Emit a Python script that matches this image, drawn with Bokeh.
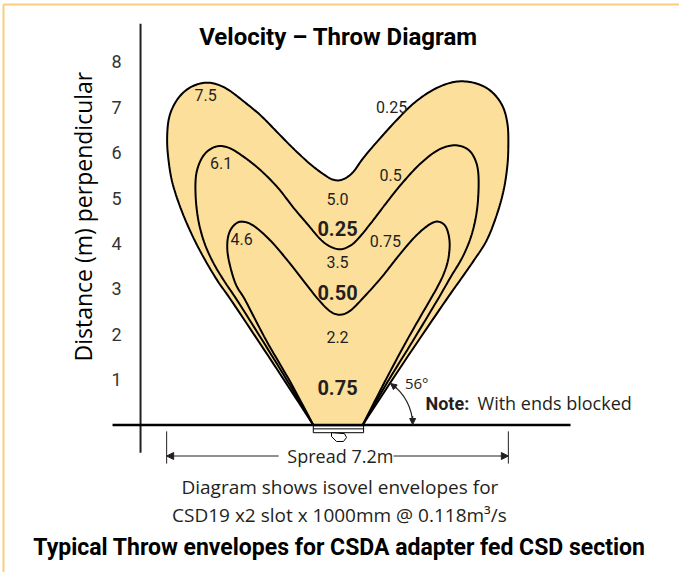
import numpy as np
from bokeh.plotting import figure
from bokeh.models import Range1d, FixedTicker, Arrow, NormalHead
from bokeh.core.properties import value
from bokeh.embed import file_html
from bokeh.resources import INLINE

# ---------------- data (metres) ----------------
y_ticks = [1, 2, 3, 4, 5, 6, 7, 8]
velocity_ms = ["0.25", "0.5", "0.75"]          # isovel velocities (m/s)
centre_velocity_ms = ["0.25", "0.50", "0.75"]
throw_m = [7.5, 6.1, 4.6]                      # lobe throw of each isovel
centre_throw_m = [5.0, 3.5, 2.2]               # centre throw of each isovel
spread_m = 7.2
slot_angle_deg = 56

# isovel 0.25 m/s envelope (x = spread position, y = distance perpendicular)
env_025_x = [-0.51, -1.37, -2.21, -2.53, -2.82, -3.08, -3.31, -3.48, -3.56, -3.59, -3.56,
             -3.46, -3.29, -3.06, -2.78, -2.53, -2.28, -1.98, -1.62, -1.28, -0.93, -0.59,
             -0.29, -0.08, 0.11, 0.32, 0.55, 0.91, 1.26, 1.60, 1.96, 2.32, 2.65, 2.99, 3.27,
             3.48, 3.58, 3.60, 3.58, 3.50, 3.35, 3.14, 2.87, 2.59, 2.28, 1.41, 0.53]
env_025_y = [0.00, 1.38, 2.70, 3.18, 3.69, 4.22, 4.79, 5.34, 5.83, 6.27, 6.71,
             7.02, 7.28, 7.46, 7.54, 7.50, 7.37, 7.13, 6.82, 6.46, 6.09, 5.76,
             5.52, 5.40, 5.41, 5.56, 5.89, 6.33, 6.73, 7.08, 7.35, 7.52, 7.57, 7.50, 7.32,
             7.02, 6.64, 6.22, 5.72, 5.17, 4.61, 4.06, 3.62, 3.20, 2.74, 1.40, 0.00]

# isovel 0.5 m/s envelope
env_050_x = [-0.51, -1.05, -1.58, -2.11, -2.38, -2.61, -2.80, -2.93, -2.99, -2.97, -2.82,
             -2.57, -2.30, -1.98, -1.62, -1.26, -0.93, -0.63, -0.36, -0.15, 0.06, 0.27,
             0.44, 0.70, 1.05, 1.39, 1.75, 2.11, 2.44, 2.72, 2.89, 2.97, 2.95, 2.84, 2.65,
             2.38, 2.11, 1.58, 1.05, 0.53]
env_050_y = [0.00, 0.96, 1.86, 2.74, 3.16, 3.56, 4.00, 4.50, 5.06, 5.56, 5.94,
             6.13, 6.11, 5.91, 5.61, 5.23, 4.79, 4.42, 4.09, 3.93, 3.87, 3.95,
             4.11, 4.44, 4.92, 5.36, 5.76, 6.05, 6.16, 6.09, 5.87, 5.50, 4.83, 4.24, 3.73,
             3.25, 2.76, 1.84, 0.94, 0.00]

# isovel 0.75 m/s envelope
env_075_x = [-0.51, -0.99, -1.50, -1.94, -2.13, -2.25, -2.32, -2.30, -2.19, -2.02, -1.77,
             -1.41, -1.05, -0.72, -0.40, -0.15, 0.06, 0.27, 0.55, 0.91, 1.26, 1.60, 1.90,
             2.11, 2.28, 2.36, 2.34, 2.25, 2.11, 1.92, 1.45, 0.99, 0.53]
env_075_y = [0.00, 0.94, 1.86, 2.74, 3.07, 3.45, 3.84, 4.17, 4.39, 4.48, 4.39,
             4.06, 3.62, 3.18, 2.76, 2.50, 2.43, 2.52, 2.81, 3.23, 3.69, 4.11, 4.39,
             4.48, 4.37, 4.06, 3.69, 3.36, 3.05, 2.70, 1.84, 0.94, 0.00]

# ---------------- layout / styling ----------------
FONT = "Roboto"
FONT2 = "Open Sans"
INK = "#231f20"
FILL = "#fddf9c"
SX, SY = 47.46, 45.40            # px per metre
X0_PX, Y0_PX = 337.0, 424.5      # canvas position of the slot centre
W, H = 679, 572
x_left = -X0_PX / SX
x_right = (W - X0_PX) / SX
y_top = Y0_PX / SY
y_bottom = (Y0_PX - H) / SY


def smooth(xs, ys, n=10):
    """Catmull-Rom rendering of the read contour points."""
    P = np.column_stack([xs, ys]).astype(float)
    P = np.vstack([P[0], P, P[-1]])
    out = []
    t = np.linspace(0, 1, n, endpoint=False)[:, None]
    for i in range(1, len(P) - 2):
        p0, p1, p2, p3 = P[i - 1], P[i], P[i + 1], P[i + 2]
        seg = 0.5 * ((2 * p1) + (-p0 + p2) * t + (2 * p0 - 5 * p1 + 4 * p2 - p3) * t ** 2
                     + (-p0 + 3 * p1 - 3 * p2 + p3) * t ** 3)
        out.append(seg)
    out.append(P[-2][None])
    a = np.vstack(out)
    return a[:, 0], a[:, 1]


p = figure(width=W, height=H, x_range=Range1d(x_left, x_right), y_range=Range1d(y_bottom, y_top),
           output_backend="svg", toolbar_location=None, x_axis_location=None,
           min_border=0, outline_line_color=None)
p.grid.visible = False
p.background_fill_color = "white"

axis_x = -4.15
ax = p.yaxis[0]
ax.fixed_location = axis_x
ax.ticker = FixedTicker(ticks=y_ticks)
ax.axis_line_color = None
ax.major_tick_line_color = None
ax.minor_tick_line_color = None
ax.major_label_standoff = 13
ax.major_label_text_font = FONT
ax.major_label_text_font_size = "18px"
ax.major_label_text_color = "#333333"

# orange frame (top + left)
bx = x_left + 3 / SX
by = y_top - 4 / SY
p.segment(x0=[bx, bx], y0=[by, by], x1=[x_right, bx], y1=[by, y_bottom],
          line_color="#fbcb7e", line_width=2)

# envelopes
ox, oy = smooth(env_025_x, env_025_y)
p.patch(ox, oy, fill_color=FILL, line_color="black", line_width=2)
for ex, ey in [(env_050_x, env_050_y), (env_075_x, env_075_y)]:
    sx_, sy_ = smooth(ex, ey)
    p.line(sx_, sy_, line_color="black", line_width=2)

# axis line and ground line
p.segment(x0=[axis_x], y0=[-0.61], x1=[axis_x], y1=[8.84], line_color=INK, line_width=2)
p.segment(x0=[-4.74], y0=[0], x1=[4.91], y1=[0], line_color="black", line_width=2.6)

# slot + adapter
base_l, base_r = env_025_x[0], env_025_x[-1]
p.quad(left=[base_l], right=[base_r + 0.02], top=[-0.02], bottom=[-0.17],
       fill_color="white", line_color="black", line_width=1)
p.segment(x0=[base_l], y0=[-0.085], x1=[base_r + 0.02], y1=[-0.085], line_color="black", line_width=1)
p.patch([-0.126, -0.126, -0.021, 0.126, 0.19, 0.147], [-0.17, -0.253, -0.363, -0.363, -0.275, -0.19],
        fill_color="white", line_color="black", line_width=1)

# contour labels
lab_left_x = [-2.78, -2.45, -2.02]
lab_left_y = [7.26, 5.78, 4.09]
p.text(x=lab_left_x, y=lab_left_y, text=[f"{v:.1f}" for v in throw_m], text_font=value(FONT),
       text_font_size="16px", text_color=INK, text_align="center", text_baseline="middle")
lab_right_x = [1.14, 1.12, 1.01]
lab_right_y = [7.00, 5.51, 4.05]
p.text(x=lab_right_x, y=lab_right_y, text=velocity_ms, text_font=value(FONT),
       text_font_size="16px", text_color=INK, text_align="center", text_baseline="middle")
p.text(x=[0, 0, 0], y=[4.97, 3.58, 1.93], text=[f"{v:.1f}" for v in centre_throw_m],
       text_font=value(FONT), text_font_size="16px", text_color=INK,
       text_align="center", text_baseline="middle")
p.text(x=[0, 0, 0], y=[4.33, 2.92, 0.83], text=centre_velocity_ms, text_font=value(FONT),
       text_font_size="20px", text_font_style="bold", text_color=INK,
       text_align="center", text_baseline="middle")

# angle arc
cx = base_r
R = 50
p.arc(x=[cx], y=[0], radius=R, radius_units="screen", start_angle=0,
      end_angle=np.radians(slot_angle_deg), line_color=INK, line_width=1.2)
a1 = np.radians(slot_angle_deg)
a0 = np.radians(slot_angle_deg - 9)
p.add_layout(Arrow(x_start=cx + R / SX, y_start=9 / SY, x_end=cx + R / SX, y_end=0.5 / SY,
                   end=NormalHead(size=6, fill_color=INK, line_color=INK, line_width=1),
                   line_color=INK, line_width=1.2))
p.add_layout(Arrow(x_start=cx + R * np.cos(a0) / SX, y_start=R * np.sin(a0) / SY,
                   x_end=cx + R * np.cos(a1) / SX, y_end=R * np.sin(a1) / SY,
                   end=NormalHead(size=6, fill_color=INK, line_color=INK, line_width=1),
                   line_color=INK, line_width=1.2))
p.text(x=[1.67], y=[0.92], text=[f"{slot_angle_deg}°"], text_font=value(FONT2), text_font_size="15px",
       text_color=INK, text_align="center", text_baseline="middle")
p.text(x=[1.854], y=[0.474], text=["Note:"], text_font=value(FONT), text_font_size="18px",
       text_font_style="bold", text_color=INK, text_align="left", text_baseline="middle")
p.text(x=[2.95], y=[0.474], text=["With ends blocked"], text_font=value(FONT2), text_font_size="18px",
       text_color=INK, text_align="left", text_baseline="middle")

# spread dimension
half = spread_m / 2
ya = -0.683
p.segment(x0=[-half, half], y0=[-0.14, -0.14], x1=[-half, half], y1=[-0.85, -0.85],
          line_color=INK, line_width=1)
p.add_layout(Arrow(x_start=-1.24, y_start=ya, x_end=-half, y_end=ya,
                   end=NormalHead(size=7, fill_color=INK, line_color=INK, line_width=1),
                   line_color=INK, line_width=1))
p.add_layout(Arrow(x_start=1.18, y_start=ya, x_end=half, y_end=ya,
                   end=NormalHead(size=7, fill_color=INK, line_color=INK, line_width=1),
                   line_color=INK, line_width=1))
p.text(x=[0.06], y=[ya], text=[f"Spread {spread_m}m"], text_font=value(FONT2), text_font_size="18px",
       text_color=INK, text_align="center", text_baseline="middle")

# titles and notes
p.text(x=[0.02], y=[8.557], text=["Velocity – Throw Diagram"], text_font=value(FONT),
       text_font_size="24px", text_font_style="bold", text_color="black",
       text_align="center", text_baseline="middle")
p.text(x=[-5.37], y=[4.59], text=["Distance (m) perpendicular"], angle=np.pi / 2,
       text_font=value(FONT2), text_font_size="23px", text_color="black",
       text_align="center", text_baseline="middle")
p.text(x=[0.05], y=[-1.37], text=["Diagram shows isovel envelopes for"], text_font=value(FONT2),
       text_font_size="19px", text_color=INK, text_align="center", text_baseline="middle")
p.text(x=[0.04], y=[-1.99], text=["CSD19 x2 slot x 1000mm @ 0.118m³/s"], text_font=value(FONT2),
       text_font_size="19px", text_color=INK, text_align="center", text_baseline="middle")
p.text(x=[0.04], y=[-2.70], text=["Typical Throw envelopes for CSDA adapter fed CSD section"],
       text_font=value(FONT), text_font_size="23px", text_font_style="bold", text_color="black",
       text_align="center", text_baseline="middle")

open("out.html", "w").write(file_html(p, INLINE))
